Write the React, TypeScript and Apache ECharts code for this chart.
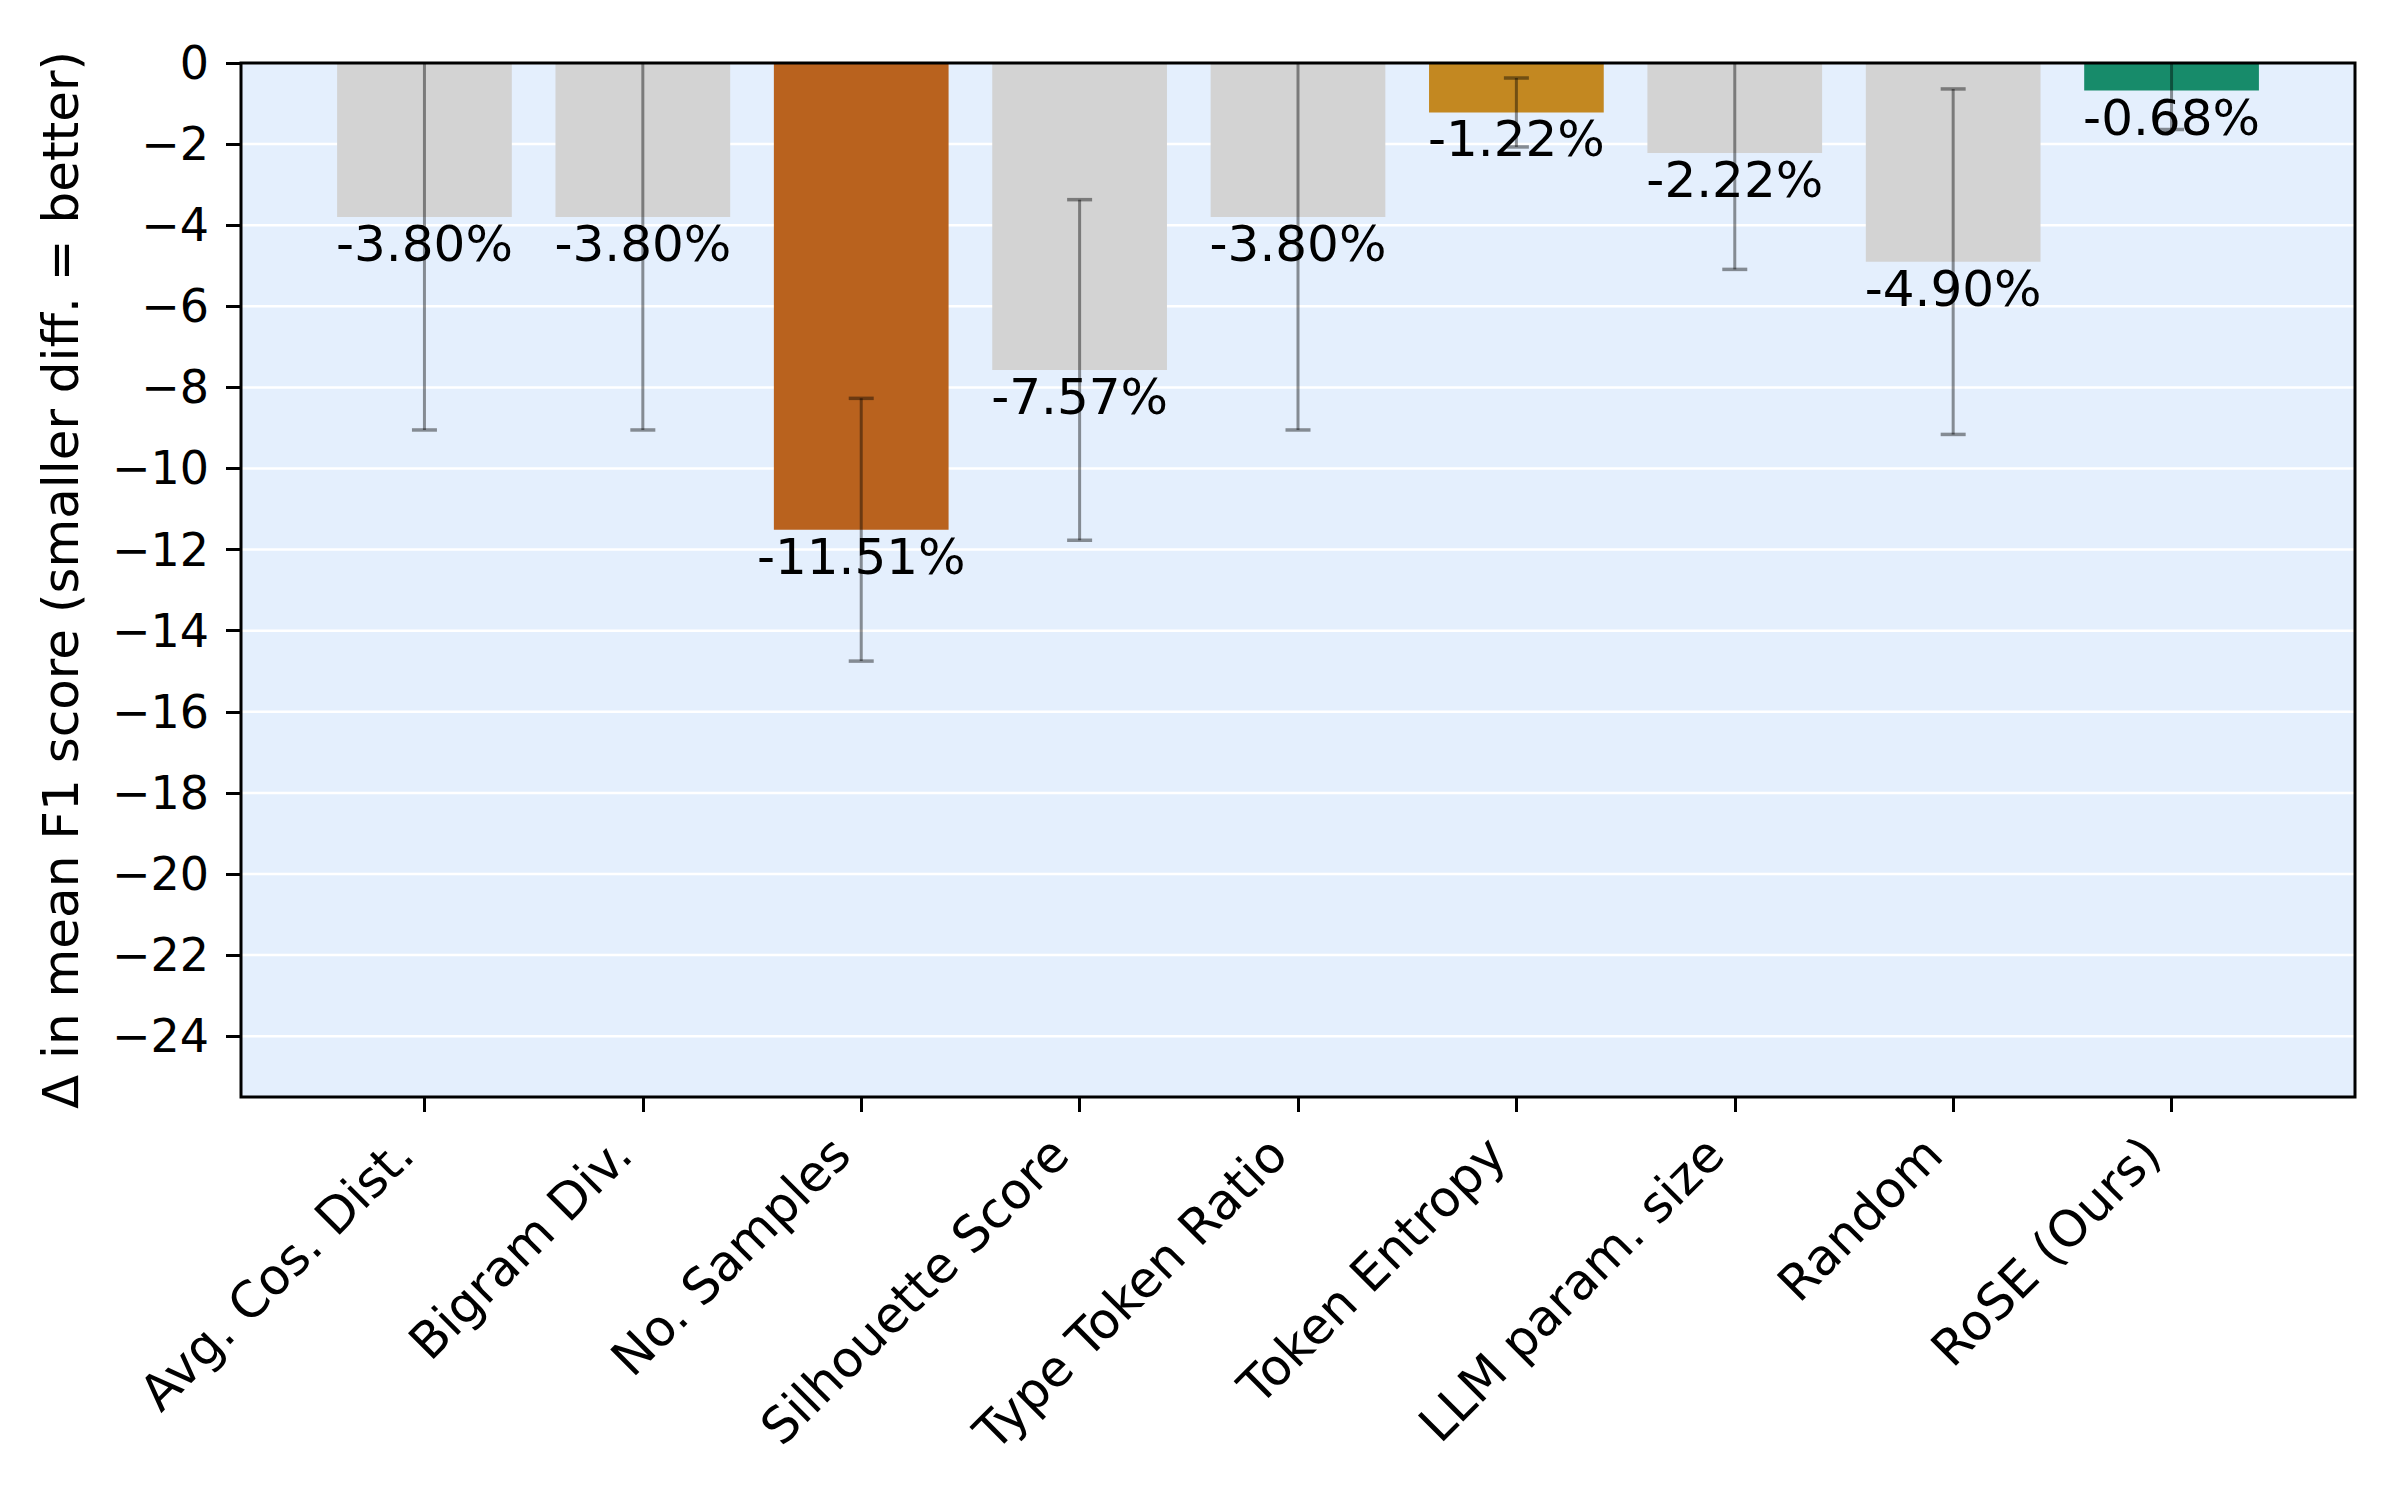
import React, { useEffect, useRef } from "react";
import * as echarts from "echarts";

const categories = [
  "Avg. Cos. Dist.",
  "Bigram Div.",
  "No. Samples",
  "Silhouette Score",
  "Type Token Ratio",
  "Token Entropy",
  "LLM param. size",
  "Random",
  "RoSE (Ours)",
];
const deltas = [-3.8, -3.8, -11.51, -7.57, -3.8, -1.22, -2.22, -4.9, -0.68];
const errors = [5.25, 5.25, 3.24, 4.2, 5.25, 0.85, 2.87, 4.26, 0.96];
const barColors = ["#d3d3d3", "#d3d3d3", "#b9621e", "#d3d3d3", "#d3d3d3", "#c38821", "#d3d3d3", "#d3d3d3", "#178b6a"];
const yTicks = [0, -2, -4, -6, -8, -10, -12, -14, -16, -18, -20, -22, -24];
const xTickIdx = [0, 1, 2, 3, 4, 5, 6, 7, 8];

const Y_MIN = -25.5;
const Y_MAX = 0;
const X_MIN = -0.84;
const X_MAX = 8.84;
const BAR_W = 0.8;

const GRID = { left: 241, top: 63, width: 2114, height: 1034 };
const FONT = "DejaVu Sans";

export default function App() {
  const ref = useRef<HTMLDivElement>(null);
  useEffect(() => {
    if (!ref.current) return;
    const chart = echarts.init(ref.current, null, { renderer: "svg" });
    const fmtY = (v: number) => (v < 0 ? "\u2212" + Math.abs(v) : String(v));
    const option: any = {
      animation: false,
      backgroundColor: "#ffffff",
      grid: {
        left: GRID.left,
        top: GRID.top,
        width: GRID.width,
        height: GRID.height,
        show: true,
        backgroundColor: "#e4effd",
        borderWidth: 0,
        containLabel: false,
      },
      xAxis: {
        type: "value",
        min: X_MIN,
        max: X_MAX,
        position: "bottom",
        axisLine: { show: false, onZero: false },
        splitLine: { show: false },
        axisTick: {
          show: true,
          customValues: xTickIdx,
          inside: false,
          length: 15,
          lineStyle: { color: "#000", width: 3 },
        },
        axisLabel: {
          customValues: xTickIdx,
          rotate: 45,
          margin: 29,
          padding: [0, 28, 0, 0],
          fontSize: 50,
          fontFamily: FONT,
          color: "#000",
          formatter: (v: number) => categories[Math.round(v)] ?? "",
        },
      },
      yAxis: {
        type: "value",
        min: Y_MIN,
        max: Y_MAX,
        position: "left",
        name: "\u0394 in mean F1 score (smaller diff. = better)",
        nameLocation: "middle",
        nameGap: 155,
        nameTextStyle: { fontSize: 50, fontFamily: FONT, color: "#000" },
        axisLine: { show: false, onZero: false },
        splitLine: { show: false },
        axisTick: {
          show: true,
          customValues: yTicks,
          inside: false,
          length: 15,
          lineStyle: { color: "#000", width: 3 },
        },
        axisLabel: {
          customValues: yTicks,
          margin: 32,
          fontSize: 46,
          fontFamily: FONT,
          color: "#000",
          formatter: fmtY,
        },
      },
      graphic: [
        {
          type: "rect",
          z: 100,
          silent: true,
          shape: { x: GRID.left, y: GRID.top, width: GRID.width, height: GRID.height },
          style: { fill: "none", stroke: "#000", lineWidth: 3 },
        },
      ],
      series: [
        {
          type: "custom",
          name: "gridlines",
          z: 1,
          silent: true,
          data: yTicks.map((t) => [0, t]),
          renderItem: (_p: any, api: any) => {
            const t = api.value(1);
            const a = api.coord([X_MIN, t]);
            const b = api.coord([X_MAX, t]);
            return {
              type: "line",
              shape: { x1: a[0], y1: a[1], x2: b[0], y2: b[1] },
              style: { stroke: "#ffffff", lineWidth: 2.5 },
            };
          },
        },
        {
          type: "custom",
          name: "bars",
          z: 2,
          data: deltas.map((v, i) => [i, v]),
          renderItem: (p: any, api: any) => {
            const i = api.value(0);
            const v = api.value(1);
            const p0 = api.coord([i - BAR_W / 2, 0]);
            const p1 = api.coord([i + BAR_W / 2, v]);
            return {
              type: "rect",
              shape: { x: p0[0], y: p0[1], width: p1[0] - p0[0], height: p1[1] - p0[1] },
              style: { fill: barColors[p.dataIndex] },
            };
          },
        },
        {
          type: "custom",
          name: "errors",
          z: 3,
          clip: true,
          data: deltas.map((v, i) => [i, v, errors[i]]),
          renderItem: (_p: any, api: any) => {
            const i = api.value(0);
            const v = api.value(1);
            const e = api.value(2);
            const hi = v + e;
            const lo = v - e;
            const top = api.coord([i, Math.min(hi, Y_MAX)]);
            const bot = api.coord([i, lo]);
            const cap = 12.5;
            const stroke = "rgba(0,0,0,0.42)";
            const children: any[] = [
              { type: "line", shape: { x1: top[0], y1: top[1], x2: bot[0], y2: bot[1] }, style: { stroke, lineWidth: 3 } },
              { type: "line", shape: { x1: bot[0] - cap, y1: bot[1], x2: bot[0] + cap, y2: bot[1] }, style: { stroke, lineWidth: 3.5 } },
            ];
            if (hi <= Y_MAX) {
              children.push({
                type: "line",
                shape: { x1: top[0] - cap, y1: top[1], x2: top[0] + cap, y2: top[1] },
                style: { stroke, lineWidth: 3.5 },
              });
            }
            return { type: "group", children };
          },
        },
        {
          type: "custom",
          name: "labels",
          z: 4,
          data: deltas.map((v, i) => [i, v]),
          renderItem: (_p: any, api: any) => {
            const i = api.value(0);
            const v = api.value(1);
            const pt = api.coord([i, v]);
            return {
              type: "text",
              x: pt[0],
              y: pt[1] + 2,
              style: {
                text: v.toFixed(2) + "%",
                textAlign: "center",
                textVerticalAlign: "top",
                fontSize: 50,
                fontFamily: FONT,
                fill: "#000",
              },
            };
          },
        },
      ],
    };
    chart.setOption(option);
    return () => chart.dispose();
  }, []);
  return (
    <div
      ref={ref}
      style={{ position: "absolute", left: 0, top: 0, width: 2400, height: 1500, background: "#fff" }}
    />
  );
}
